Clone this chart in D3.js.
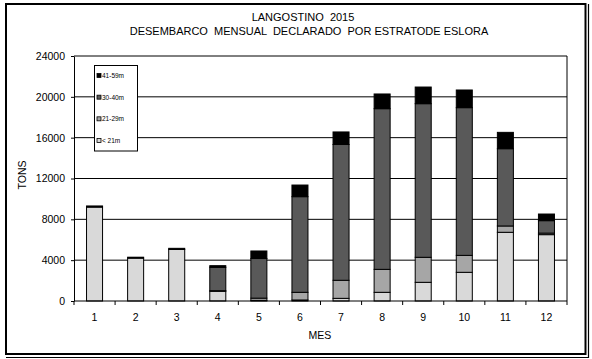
<!DOCTYPE html>
<html>
<head>
<meta charset="utf-8">
<script src="https://cdn.jsdelivr.net/npm/d3@7"></script>
<style>
  body { margin: 0; background: #fff; }
  svg { font-family: "Liberation Sans", Arial, sans-serif; }
</style>
</head>
<body>
<div id="chart"></div>
<script>
// monthly landings by length stratum (tons)
var months = [1, 2, 3, 4, 5, 6, 7, 8, 9, 10, 11, 12];
var strata = ['< 21m', '21-29m', '30-40m', '41-59m'];
var under21 = [9200, 4200, 5050, 950, 60, 100, 260, 850, 1830, 2810, 6730, 6500];
var s21_29 = [0, 0, 0, 60, 220, 750, 1770, 2250, 2450, 1660, 620, 150];
var s30_40 = [0, 0, 0, 2290, 3880, 9370, 13300, 15740, 15050, 14470, 7570, 1220];
var s41_59 = [110, 90, 110, 160, 740, 1140, 1230, 1440, 1630, 1730, 1600, 650];
var yTicks = [0, 4000, 8000, 12000, 16000, 20000, 24000];
var colors = ['#d9d9d9', '#a6a6a6', '#595959', '#000000'];

var W = 592, H = 359;
var margin = {top: 56, right: 25, bottom: 58, left: 74};

var rows = months.map(function(m, i) {
	return {mes: m, '< 21m': under21[i], '21-29m': s21_29[i], '30-40m': s30_40[i], '41-59m': s41_59[i]};
});

var svg = d3.select('#chart').append('svg').attr('width', W).attr('height', H);

// outer frame (double line on right and bottom)
svg.append('rect')
	.attr('x', 6).attr('y', 4).attr('width', 579.5).attr('height', 350)
	.attr('fill', 'none').attr('stroke', 'black').attr('stroke-width', 2);
svg.append('path')
	.attr('d', 'M588.5,4V357.5H6')
	.attr('fill', 'none').attr('stroke', 'black').attr('stroke-width', 1.2);

var x = d3.scaleBand()
	.domain(months)
	.range([margin.left, W - margin.right])
	.paddingInner(0.61)
	.paddingOuter(0.305);

var y = d3.scaleLinear()
	.domain([0, 24000])
	.range([H - margin.bottom, margin.top]);

// gridlines
svg.append('g')
	.selectAll('line')
	.data(yTicks.slice(1))
	.join('line')
	.attr('x1', margin.left).attr('x2', W - margin.right)
	.attr('y1', d => y(d)).attr('y2', d => y(d))
	.attr('stroke', 'black').attr('stroke-width', 1);

// right frame of plot area
svg.append('line')
	.attr('x1', W - margin.right).attr('x2', W - margin.right)
	.attr('y1', margin.top).attr('y2', H - margin.bottom)
	.attr('stroke', 'black');

var stack = d3.stack().keys(strata);
var series = stack(rows);

svg.append('g')
	.selectAll('g')
	.data(series)
	.join('g')
	.attr('fill', (d, i) => colors[i])
	.selectAll('rect')
	.data(d => d)
	.join('rect')
	.attr('x', d => x(d.data.mes))
	.attr('width', x.bandwidth())
	.attr('y', d => y(d[1]))
	.attr('height', d => y(d[0]) - y(d[1]))
	.attr('stroke', 'black')
	.attr('stroke-width', 1);

// y axis
var yAxis = svg.append('g')
	.attr('transform', `translate(${margin.left},0)`)
	.call(d3.axisLeft(y).tickValues(yTicks).tickSize(3).tickSizeOuter(0).tickPadding(6).tickFormat(d3.format('d')));
yAxis.selectAll('text').style('font-size', '10.5px').attr('fill', 'black');
yAxis.select('.domain').attr('stroke', 'black');

// x axis: ticks at band boundaries
var xAxisG = svg.append('g')
	.attr('transform', `translate(0,${H - margin.bottom})`);
xAxisG.append('line')
	.attr('x1', margin.left).attr('x2', W - margin.right)
	.attr('stroke', 'black');
var step = x.step();
xAxisG.selectAll('.tk')
	.data(d3.range(months.length + 1))
	.join('line')
	.attr('class', 'tk')
	.attr('x1', i => margin.left + i * step)
	.attr('x2', i => margin.left + i * step)
	.attr('y1', 0).attr('y2', 4)
	.attr('stroke', 'black');
xAxisG.selectAll('text')
	.data(months)
	.join('text')
	.attr('x', d => x(d) + x.bandwidth() / 2)
	.attr('y', 20)
	.attr('text-anchor', 'middle')
	.style('font-size', '10.5px')
	.text(d => d);

// axis titles
svg.append('text')
	.attr('x', 320).attr('y', 339)
	.attr('text-anchor', 'middle')
	.style('font-size', '10.5px')
	.text('MES');
svg.append('text')
	.attr('transform', 'translate(26,175) rotate(-90)')
	.attr('text-anchor', 'middle')
	.style('font-size', '10.5px')
	.text('TONS');

// titles
svg.append('text')
	.attr('x', 303).attr('y', 21)
	.attr('text-anchor', 'middle')
	.style('font-size', '11px')
	.style('white-space', 'pre')
	.text('LANGOSTINO  2015');
svg.append('text')
	.attr('x', 309).attr('y', 35)
	.attr('text-anchor', 'middle')
	.style('font-size', '11px')
	.style('white-space', 'pre')
	.text('DESEMBARCO  MENSUAL  DECLARADO  POR ESTRATODE ESLORA');

// legend
var legend = svg.append('g');
legend.append('rect')
	.attr('x', 94.5).attr('y', 65.5).attr('width', 43).attr('height', 85.5)
	.attr('fill', 'white').attr('stroke', 'black');
var legendItems = strata.slice().reverse();
var legendColors = colors.slice().reverse();
var ly = d3.scalePoint().domain(legendItems).range([75.5, 140.5]);
legend.selectAll('rect.sw')
	.data(legendItems)
	.join('rect')
	.attr('class', 'sw')
	.attr('x', 97).attr('y', d => ly(d) - 2)
	.attr('width', 4).attr('height', 4)
	.attr('fill', (d, i) => legendColors[i])
	.attr('stroke', 'black').attr('stroke-width', 0.8);
legend.selectAll('text')
	.data(legendItems)
	.join('text')
	.attr('x', 102).attr('y', d => ly(d) + 2.5)
	.style('font-size', '6.5px')
	.text(d => d);
</script>
</body>
</html>
